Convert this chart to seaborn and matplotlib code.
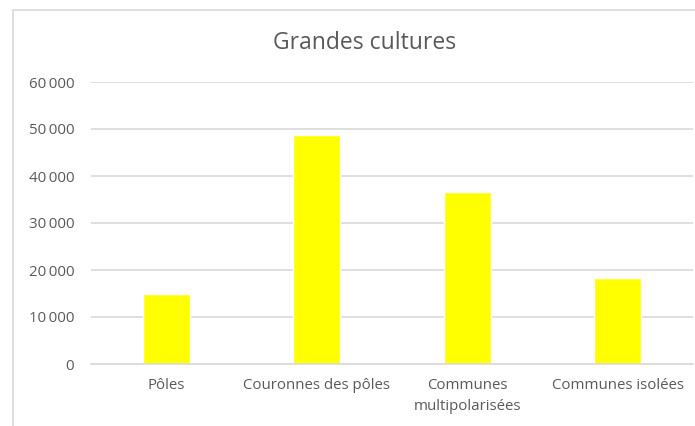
import seaborn as sns
import matplotlib.pyplot as plt
from matplotlib.patches import Rectangle
from matplotlib.ticker import FuncFormatter

categories = ['Pôles', 'Couronnes des pôles', 'Communes\nmultipolarisées', 'Communes isolées']
values = [14900, 48700, 36700, 18400]
yticks = [0, 10000, 20000, 30000, 40000, 50000, 60000]

sns.set_style("white")
plt.rcParams['font.family'] = ['Open Sans', 'DejaVu Sans']

fig = plt.figure(figsize=(6.95, 4.26), dpi=100)
ax = fig.add_axes([91 / 695, 1 - 364 / 426, 602 / 695, 282 / 426])

# chart frame like the spreadsheet export
fig.patches.append(Rectangle((13 / 695, -0.1), 1.0, 1 - 10 / 426 + 0.1, transform=fig.transFigure,
                             fill=False, edgecolor='#d9d9d9', linewidth=1.2))

sns.barplot(x=categories, y=values, color='#ffff00', width=0.31, ax=ax, saturation=1)

ax.set_ylim(0, 60000)
ax.set_yticks(yticks)
ax.yaxis.set_major_formatter(FuncFormatter(lambda v, p: format(int(v), ',').replace(',', '\u2009')))
ax.grid(axis='y', color='#d9d9d9', linewidth=1.2)
ax.set_axisbelow(True)
for s in ['top', 'right', 'left']:
    ax.spines[s].set_visible(False)
ax.spines['bottom'].set_color('#d9d9d9')
ax.spines['bottom'].set_linewidth(1.2)
ax.tick_params(axis='both', length=0, labelsize=10.8, colors='#595959')
ax.tick_params(axis='y', pad=12)
ax.tick_params(axis='x', pad=10)
for lbl in ax.get_xticklabels():
    lbl.set_linespacing(1.55)
ax.set_xlabel('')
ax.set_ylabel('')

fig.text(365 / 695, 1 - 43 / 426, 'Grandes cultures', ha='center', va='center',
         fontsize=16.5, color='#595959')

plt.savefig("out.png", dpi=100)
